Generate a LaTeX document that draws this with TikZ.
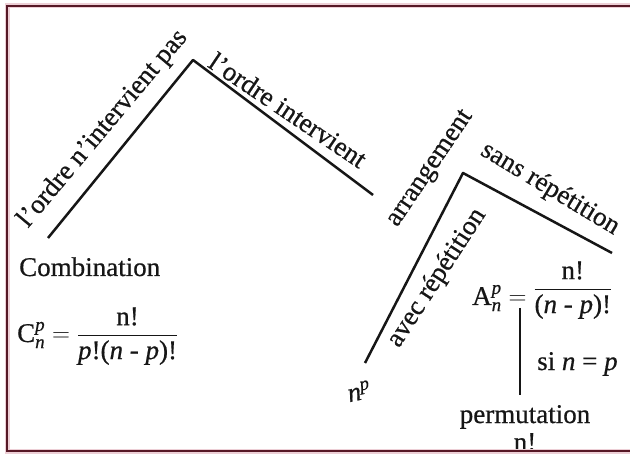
\documentclass[tikz,border=0pt]{standalone}
\usepackage{fontspec}
\setmainfont{Liberation Serif}[FakeBold=0.6, ItalicFeatures={FakeBold=0.6}]
\usepackage{amsmath}
\usepackage{xcolor}
\usepackage{tikz}
\usetikzlibrary{positioning}
\definecolor{framered}{HTML}{561826}
\definecolor{framepink}{HTML}{EDCFD6}
\definecolor{inkgray}{HTML}{161616}

\begin{document}
\begin{tikzpicture}[x=1pt, y=1pt,
    txt/.style={inner sep=0pt, text=inkgray, font=\fontsize{27}{32}\selectfont},
    branch/.style={draw=inkgray, line width=2.5pt, line join=round}]
  \useasboundingbox (0,0) rectangle (630,456);
  \fill[white] (0,0) rectangle (630,456);

  \coordinate (comb) at (48,218);
  \coordinate (top) at (193,396);
  \coordinate (arr) at (373,261);
  \coordinate (rep) at (365,93);
  \coordinate (fork) at (463,283);
  \coordinate (norep) at (612,203);
  \coordinate (eqfoot) at (520,148);
  \coordinate (permtop) at (520,61);

  \draw[branch] (comb) -- (top) -- (arr);
  \draw[branch] (rep) -- (fork) -- (norep);
  \draw[branch] (eqfoot) -- (permtop);

  \node[txt, rotate=50] (nonordre) at (103,327) {l'ordre n'intervient pas};
  \node[txt, rotate=-34] (ordre) at (288,346) {l'ordre intervient};
  \node[txt, rotate=56] (arrang) at (431,287) {arrangement};
  \node[txt, rotate=-31] (sansrep) at (550,267) {sans répétition};
  \node[txt, rotate=57] (avecrep) at (437,178) {avec répétition};

  \node[txt, anchor=base west] (combi) at (19,180) {Combination};
  \node[txt, anchor=base west] (cform) at (17,114)
    {$\text{C}^{\textit{p}}_{\textit{n}}=\dfrac{\text{n!}}{\text{\textit{p}!(\textit{n} - \textit{p})!}}$};
  \node[txt, anchor=base west] (aform) at (472,151)
    {$\text{A}^{\textit{p}}_{\textit{n}}=\raisebox{9pt}{$\dfrac{\text{n!}}{\text{(\textit{n} - \textit{p})!}}$}$};
  \node[txt, anchor=base west] (sinp) at (537,86) {si \textit{n} = \textit{p}};
  \node[txt, rotate=12] (npow) at (359,65) {\textit{n}$^{\textit{p}}$};
  \node[txt, anchor=base] (permtext) at (525,33) {permutation};
  \node[txt, below=4pt of permtext] (nfact) {n!};

  \draw[framepink, line width=5pt] (634,450) -- (7,450) -- (7,5) -- (634,5);
  \draw[framered, line width=2.8pt] (634,450) -- (7,450) -- (7,5) -- (634,5);
\end{tikzpicture}
\end{document}
